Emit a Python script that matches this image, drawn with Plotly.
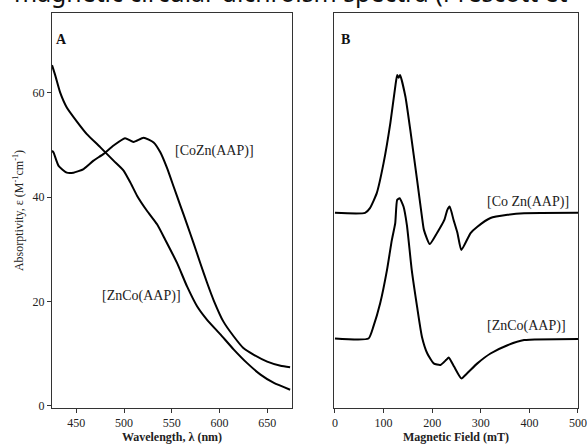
import plotly.graph_objects as go

# Panel A: absorption spectra
wl_cozn = [424.5, 426, 431.4, 440, 447, 457.6, 468, 478.6, 489, 501, 510, 520.5, 531, 538, 545, 552, 559, 566, 573,
           580, 587, 594, 604, 615, 625, 636, 650, 664, 674]
abs_cozn = [48.9, 48.6, 46.0, 44.7, 44.7, 45.4, 47.0, 48.3, 49.9, 51.3, 50.6, 51.4, 50.5, 48.6, 45.6, 42.0, 38.4, 34.8, 31.1,
            27.3, 23.6, 20.2, 16.2, 13.3, 11.1, 9.8, 8.5, 7.7, 7.4]
wl_znco = [424.5, 428, 433, 440, 451, 461, 475, 489, 499.5, 506.6, 513.6, 524, 534.6, 543,
           555.5, 566, 576.5, 587, 601, 615, 629, 643, 657, 674]
abs_znco = [65.3, 63.3, 60.1, 57.2, 54.4, 52.1, 49.6, 47.0, 45.1, 42.8, 40.3, 37.4, 34.8, 31.9,
            27.4, 22.9, 19.1, 16.5, 13.7, 10.8, 8.2, 6.0, 4.4, 3.1]

# Panel B: traces vs magnetic field (arbitrary units)
field_cozn = [0, 62, 72, 86, 100, 114, 124, 128, 131, 134, 145, 155, 169, 179, 183, 195, 210, 225, 231, 236, 244, 252,
              260, 279, 293, 320, 355, 389, 500]
sig_cozn = [49.4, 49.4, 50.6, 54.4, 62.0, 72.2, 81.3, 84.3, 83.6, 84.3, 78.8, 70.4, 57.7, 48.4, 45.1, 41.5, 44.3, 47.6,
            50.1, 51.0, 47.6, 44.3, 40.0, 44.3, 45.9, 48.1, 48.9, 49.3, 49.4]
field_znco = [0, 69, 79, 93, 107, 117, 124, 128, 133, 141, 148, 158, 169, 179, 190, 203, 217, 229, 234, 245, 260, 272,
              293, 320, 355, 389, 500]
sig_znco = [17.6, 17.6, 20.6, 26.5, 34.9, 42.5, 46.8, 52.7, 53.1, 51.0, 46.3, 34.9, 25.6, 18.0, 13.8, 11.3, 10.9, 12.2,
            12.8, 10.5, 7.5, 8.8, 11.3, 13.8, 15.9, 17.2, 17.5]

a_ticks = [450, 500, 550, 600, 650]
a_yticks = [0, 20, 40, 60]
b_ticks = [0, 100, 200, 300, 400, 500]

SERIF = "Liberation Serif"
line = dict(color="black", width=2, shape="spline", smoothing=0.5)

fig = go.Figure()
fig.add_trace(go.Scatter(x=wl_cozn, y=abs_cozn, mode="lines", line=line, xaxis="x", yaxis="y"))
fig.add_trace(go.Scatter(x=wl_znco, y=abs_znco, mode="lines", line=line, xaxis="x", yaxis="y"))
fig.add_trace(go.Scatter(x=field_cozn, y=sig_cozn, mode="lines", line=line, xaxis="x2", yaxis="y2"))
fig.add_trace(go.Scatter(x=field_znco, y=sig_znco, mode="lines", line=line, xaxis="x2", yaxis="y2"))

axcommon = dict(showline=True, mirror=True, linecolor="#333", linewidth=1, showgrid=False, zeroline=False,
                automargin=False, ticks="outside", ticklen=4, tickcolor="#333",
                tickfont=dict(family=SERIF, size=12, color="#222"))

fig.update_layout(
    width=587, height=446, showlegend=False,
    margin=dict(l=52, r=9, t=13, b=38),
    paper_bgcolor="white", plot_bgcolor="white",
    xaxis=dict(domain=[0, 0.4563], range=[424.5, 676], tickvals=a_ticks, anchor="y",
               title=dict(text="<b>Wavelength, λ (nm)</b>", font=dict(family=SERIF, size=12, color="#222"), standoff=3),
               **axcommon),
    yaxis=dict(domain=[0, 1], range=[-0.4, 75.3], tickvals=a_yticks, anchor="x",
               title=dict(text="Absorptivity, ε (M<sup>-1</sup>cm<sup>-1</sup>)", font=dict(family=SERIF, size=12, color="#222"), standoff=6),
               **axcommon),
    xaxis2=dict(domain=[0.5361, 1], range=[-2, 500], tickvals=b_ticks, anchor="y2",
                title=dict(text="<b>Magnetic Field (mT)</b>", font=dict(family=SERIF, size=12, color="#222"), standoff=3),
                **axcommon),
    yaxis2=dict(domain=[0, 1], range=[0, 100], anchor="x2", showline=True, mirror=True, linecolor="#333", linewidth=1,
                showgrid=False, zeroline=False, showticklabels=False, ticks="", automargin=False),
)

ann_font = dict(family=SERIF, size=14, color="#222")
fig.add_annotation(x=551.7, y=48.8, xref="x", yref="y", text="[CoZn(AAP)]", showarrow=False, xanchor="left", font=ann_font)
fig.add_annotation(x=475.2, y=21, xref="x", yref="y", text="[ZnCo(AAP)]", showarrow=False, xanchor="left", font=ann_font)
fig.add_annotation(x=308, y=52.2, xref="x2", yref="y2", text="[Co Zn(AAP)]", showarrow=False, xanchor="left", font=ann_font)
fig.add_annotation(x=308, y=20.8, xref="x2", yref="y2", text="[ZnCo(AAP)]", showarrow=False, xanchor="left", font=ann_font)
fig.add_annotation(x=0.01, y=0.957, xref="x domain", yref="y domain", text="<b>A</b>", showarrow=False, xanchor="left",
                   font=dict(family=SERIF, size=14, color="#111"))
fig.add_annotation(x=0.02, y=0.957, xref="x2 domain", yref="y2 domain", text="<b>B</b>", showarrow=False, xanchor="left",
                   font=dict(family=SERIF, size=14, color="#111"))
fig.add_annotation(x=-0.076, y=1.005, xref="paper", yref="paper", text="magnetic circular dichroism spectra (Prescott et",
                   showarrow=False, xanchor="left", yanchor="bottom", font=dict(family="Noto Sans", size=24.8, color="#111"))

fig.write_html("out.html", config={"displayModeBar": False}, post_script="document.body.style.margin='0';")
